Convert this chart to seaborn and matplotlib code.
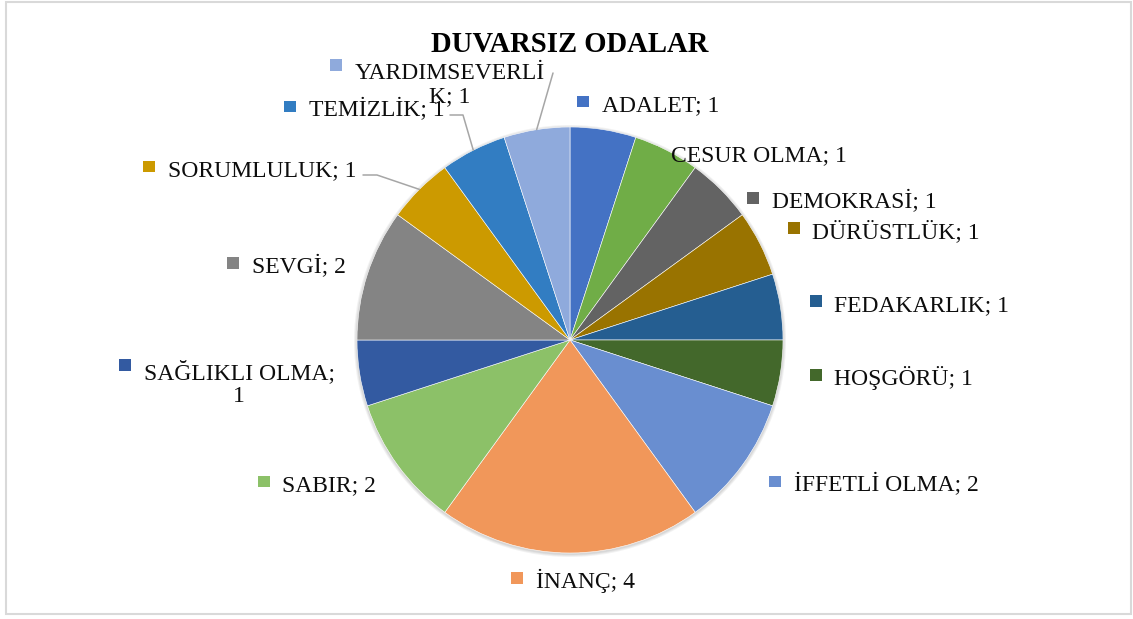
import numpy as np
import matplotlib
matplotlib.use("Agg")
import matplotlib.pyplot as plt
import seaborn as sns
from matplotlib.patches import Rectangle, Circle

# ---------------------------
# Data
# ---------------------------
title = "DUVARSIZ ODALAR"
categories = ["ADALET", "CESUR OLMA", "DEMOKRASİ", "DÜRÜSTLÜK", "FEDAKARLIK",
              "HOŞGÖRÜ", "İFFETLİ OLMA", "İNANÇ", "SABIR", "SAĞLIKLI OLMA",
              "SEVGİ", "SORUMLULUK", "TEMİZLİK", "YARDIMSEVERLİK"]
values = [1, 1, 1, 1, 1, 1, 2, 4, 2, 1, 2, 1, 1, 1]
colors = ["#4472C4", "#70AD47", "#636363", "#997300", "#255E91",
          "#43682B", "#698ED0", "#F1975A", "#8CC168", "#335AA1",
          "#848484", "#CC9A00", "#327DC2", "#8FAADC"]

# labels that Excel wrapped onto two lines
wrapped = {"YARDIMSEVERLİK": "YARDIMSEVERLİ\nK; 1",
           "SAĞLIKLI OLMA": "SAĞLIKLI OLMA;\n1"}

# ---------------------------
# Layout (image pixels, y down)
# ---------------------------
W, H = 1133, 619
center = (570, 340)
radius = 213
fsize = 17
lspace = 1.14
line_px = lspace * fsize * 100 / 72
# text left edge, baseline of first line
label_pos = {
    "ADALET": (602, 111.5), "CESUR OLMA": (671, 161.5), "DEMOKRASİ": (772, 208),
    "DÜRÜSTLÜK": (812.5, 238), "FEDAKARLIK": (834.5, 311), "HOŞGÖRÜ": (834.5, 385),
    "İFFETLİ OLMA": (794, 491.5), "İNANÇ": (536, 588), "SABIR": (282.5, 491.5),
    "SAĞLIKLI OLMA": (143.5, 375), "SEVGİ": (251.5, 273), "SORUMLULUK": (168, 176.5),
    "TEMİZLİK": (309, 116.5), "YARDIMSEVERLİK": (355, 75),
}
# leader lines: start points, end goes to the wedge edge
leaders = {
    "YARDIMSEVERLİK": [(553, 73)],
    "TEMİZLİK": [(450, 115), (463, 115)],
    "SORUMLULUK": [(363, 175), (377, 175)],
}

sns.set_theme(style="white")
plt.rcParams["font.family"] = ["Liberation Serif", "DejaVu Serif"]

fig = plt.figure(figsize=(W / 100, H / 100), dpi=100)
ax = fig.add_axes([0, 0, 1, 1])

# soft shadow behind the pie
for k, a in enumerate([0.05, 0.05, 0.06]):
    ax.add_patch(Circle((center[0], center[1] + 1), radius + 3 - k, color="black",
                        alpha=a, lw=0, zorder=0))

wedges, _ = ax.pie(values, colors=colors, startangle=-90, counterclock=True,
                   center=center, radius=radius,
                   wedgeprops=dict(linewidth=0.4, edgecolor="white"))
ax.set_xlim(0, W)
ax.set_ylim(H, 0)
ax.axis("off")

for w, cat, val, col in zip(wedges, categories, values, colors):
    tx, by = label_pos[cat]
    txt = wrapped.get(cat, f"{cat}; {val}")
    # va="baseline" sits on the last line, so push multi-line labels down
    nlines = txt.count("\n") + 1
    ax.text(tx, by + (nlines - 1) * line_px, txt, ha="left", va="baseline",
            multialignment="center", linespacing=lspace, fontsize=fsize,
            color="#0D0D0D", zorder=5)
    ax.add_patch(Rectangle((tx - 25, by - 16), 12.4, 11.6, color=col, lw=0, zorder=5))
    if cat in leaders:
        ang = np.deg2rad((w.theta1 + w.theta2) / 2)
        ex = w.center[0] + w.r * np.cos(ang)
        ey = w.center[1] + w.r * np.sin(ang)
        pts = leaders[cat] + [(ex, ey)]
        ax.plot([p[0] for p in pts], [p[1] for p in pts], color="#A6A6A6", lw=1.1, zorder=4)

ax.text(570, 52, title, ha="center", va="baseline", fontsize=20.6,
        fontweight="bold", color="black")

# chart frame
fig.patches.append(Rectangle((6, 5), 1125, 612, transform=None, fill=False,
                             edgecolor="#D9D9D9", lw=1.5))

plt.savefig("out.png", dpi=100)
